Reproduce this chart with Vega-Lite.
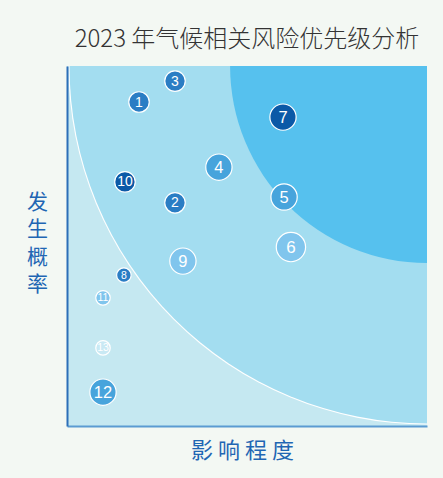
{
  "$schema": "https://vega.github.io/schema/vega-lite/v6.json",
  "width": 360,
  "height": 360,
  "autosize": {"type": "none"},
  "padding": {"left": 67, "top": 66, "right": 16, "bottom": 52},
  "background": "#f3f8f3",
  "title": {
    "text": "2023 年气候相关风险优先级分析",
    "font": "Noto Sans CJK SC",
    "fontSize": 24,
    "fontWeight": 300,
    "color": "#333333",
    "anchor": "middle",
    "offset": 14
  },
  "config": {
    "view": {"fill": "#c5e8f1", "stroke": null}
  },
  "layer": [
    {
      "data": {"values": [{"r": 9.96}]},
      "mark": {"type": "arc", "theta": 3.14159265, "theta2": 4.71238898, "fill": "#ffffff"},
      "encoding": {
        "x": {"datum": 10, "type": "quantitative", "scale": {"domain": [0, 10], "nice": false, "zero": true},
          "axis": {"title": "影 响 程 度", "labels": false, "ticks": false, "grid": false, "domainColor": "#5b9bd2", "domainWidth": 2, "titleFont": "Noto Sans CJK SC", "titleFontSize": 22, "titleColor": "#1f66b3", "titleFontWeight": "normal", "titlePadding": 14, "titleX": 175, "titleAlign": "center", "zindex": 1}},
        "y": {"datum": 10, "type": "quantitative", "scale": {"domain": [0, 10], "nice": false, "zero": true},
          "axis": {"title": ["发", "生", "概", "率"], "labels": false, "ticks": false, "grid": false, "domainColor": "#2c6fb8", "domainWidth": 2, "titleFont": "Noto Sans CJK SC", "titleFontSize": 21, "titleColor": "#1f66b3", "titleFontWeight": "normal", "titleAngle": 0, "titleAlign": "center", "titleBaseline": "middle", "titleLineHeight": 27.5, "titleX": -30, "titleY": 136, "zindex": 1}},
        "radius": {"field": "r", "type": "quantitative", "scale": {"type": "linear", "domain": [0, 10], "range": [0, 360]}}
      }
    },
    {
      "data": {"values": [{"r": 9.93}]},
      "mark": {"type": "arc", "theta": 3.14159265, "theta2": 4.71238898, "fill": "#a3ddf0"},
      "encoding": {
        "x": {"datum": 10, "type": "quantitative"},
        "y": {"datum": 10, "type": "quantitative"},
        "radius": {"field": "r", "type": "quantitative"}
      }
    },
    {
      "data": {"values": [{"r": 5.47}]},
      "mark": {"type": "arc", "theta": 3.14159265, "theta2": 4.71238898, "fill": "#56c1ee"},
      "encoding": {
        "x": {"datum": 10, "type": "quantitative"},
        "y": {"datum": 10, "type": "quantitative"},
        "radius": {"field": "r", "type": "quantitative"}
      }
    },
    {
      "data": {"name": "risks"},
      "layer": [
        {
          "mark": {"type": "circle", "opacity": 1, "stroke": "#ffffff", "strokeWidth": 1.2},
          "encoding": {
            "x": {"field": "影响", "type": "quantitative"},
            "y": {"field": "概率", "type": "quantitative"},
            "color": {"field": "等级", "type": "nominal", "legend": null,
              "scale": {"domain": ["极高", "高", "中", "较低", "低"], "range": ["#0b59a7", "#2a7dc4", "#47a4dc", "#80c5ed", "#c9e9f4"]}},
            "size": {"field": "权重", "type": "nominal", "legend": null,
              "scale": {"type": "ordinal", "domain": ["1", "2", "3", "4"], "range": [210, 420, 690, 860]}}
          }
        },
        {
          "mark": {"type": "text", "color": "#ffffff", "font": "Liberation Sans", "align": "center", "baseline": "middle", "dy": 0.5},
          "encoding": {
            "x": {"field": "影响", "type": "quantitative"},
            "y": {"field": "概率", "type": "quantitative"},
            "text": {"field": "id", "type": "nominal"},
            "size": {"field": "权重", "type": "nominal", "legend": null,
              "scale": {"type": "ordinal", "domain": ["1", "2", "3", "4"], "range": [10.5, 14, 16.5, 17]}}
          }
        }
      ],
      "resolve": {"scale": {"size": "independent"}}
    }
  ],
  "datasets": {
    "risks": [
      {"id": "1", "影响": 2.0, "概率": 9.0, "等级": "高", "权重": "2"},
      {"id": "2", "影响": 3.0, "概率": 6.2, "等级": "高", "权重": "2"},
      {"id": "3", "影响": 3.0, "概率": 9.58, "等级": "高", "权重": "2"},
      {"id": "4", "影响": 4.22, "概率": 7.19, "等级": "中", "权重": "3"},
      {"id": "5", "影响": 6.03, "概率": 6.36, "等级": "中", "权重": "3"},
      {"id": "6", "影响": 6.22, "概率": 4.97, "等级": "较低", "权重": "4"},
      {"id": "7", "影响": 6.0, "概率": 8.58, "等级": "极高", "权重": "3"},
      {"id": "8", "影响": 1.58, "概率": 4.19, "等级": "高", "权重": "1"},
      {"id": "9", "影响": 3.22, "概率": 4.58, "等级": "较低", "权重": "3"},
      {"id": "10", "影响": 1.61, "概率": 6.78, "等级": "极高", "权重": "2"},
      {"id": "11", "影响": 1.0, "概率": 3.56, "等级": "较低", "权重": "1"},
      {"id": "12", "影响": 1.0, "概率": 0.94, "等级": "中", "权重": "3"},
      {"id": "13", "影响": 1.0, "概率": 2.17, "等级": "低", "权重": "1"}
    ]
  }
}
